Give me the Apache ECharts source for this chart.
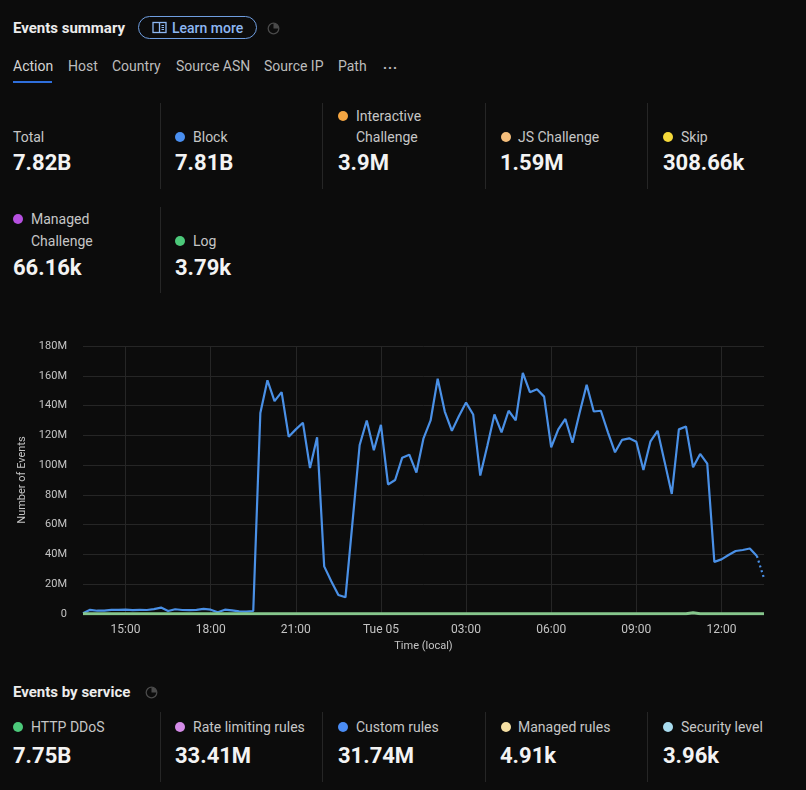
<!DOCTYPE html>
<html>
<head>
<meta charset="utf-8">
<script src="https://cdn.jsdelivr.net/npm/echarts@6/dist/echarts.min.js"></script>
<style>
  html, body { margin:0; padding:0; background:#0c0c0c; }
  body { width:806px; height:790px; position:relative; overflow:hidden; font-family: Roboto, "Noto Sans", sans-serif; color:#e6e6e6; }
  .abs { position:absolute; white-space:nowrap; }
  .title { font-size:15px; font-weight:700; color:#ececec; line-height:18px; }
  .tab { font-size:14px; color:#bdbdbd; line-height:18px; }
  .lbl { font-size:14px; color:#c6c6c6; line-height:20px; }
  .val { font-size:22px; font-weight:700; color:#f3f3f3; line-height:26px; }
  .dot { position:absolute; width:10px; height:10px; border-radius:50%; }
  .sep { position:absolute; width:1px; background:#262626; }
  #chart { position:absolute; left:0; top:320px; width:806px; height:350px; }
</style>
</head>
<body>
<!-- header -->
<div class="abs title" style="left:13px; top:19px;">Events summary</div>
<div class="abs" style="left:138px; top:16px; width:117px; height:21px; border:1.5px solid #6f9ee0; border-radius:13px;"></div>
<svg class="abs" style="left:152px; top:21px;" width="15" height="13" viewBox="0 0 15 13">
  <rect x="1" y="1.5" width="13" height="10" fill="none" stroke="#8db7f2" stroke-width="1.3"/>
  <line x1="7.5" y1="1.5" x2="7.5" y2="11.5" stroke="#8db7f2" stroke-width="1.3"/>
  <line x1="9.5" y1="4.5" x2="12" y2="4.5" stroke="#8db7f2" stroke-width="1"/>
  <line x1="9.5" y1="6.5" x2="12" y2="6.5" stroke="#8db7f2" stroke-width="1"/>
  <line x1="9.5" y1="8.5" x2="12" y2="8.5" stroke="#8db7f2" stroke-width="1"/>
</svg>
<div class="abs" style="left:172px; top:19px; font-size:14px; font-weight:500; color:#8db7f2; line-height:18px;">Learn more</div>
<svg class="abs" style="left:267px; top:22px;" width="13" height="13" viewBox="0 0 13 13">
  <circle cx="6.5" cy="6.5" r="5.3" fill="none" stroke="#4a4a4a" stroke-width="1.3"/>
  <path d="M6.5 6.5 L6.5 1.2 A5.3 5.3 0 0 1 11.8 6.5 Z" fill="#4a4a4a"/>
</svg>

<!-- tabs -->
<div class="abs tab" style="left:13px; top:57px; color:#d4d4d4;">Action</div>
<div class="abs tab" style="left:68px; top:57px;">Host</div>
<div class="abs tab" style="left:112px; top:57px;">Country</div>
<div class="abs tab" style="left:176px; top:57px;">Source ASN</div>
<div class="abs tab" style="left:264px; top:57px;">Source IP</div>
<div class="abs tab" style="left:338px; top:57px;">Path</div>
<div class="abs tab" style="left:383px; top:55px; font-weight:700; letter-spacing:1px;">...</div>
<div class="abs" style="left:13px; top:81px; width:39px; height:2px; background:#2f6fdc;"></div>

<!-- row 1 -->
<div class="sep" style="left:160px; top:103px; height:86px;"></div>
<div class="sep" style="left:322px; top:103px; height:86px;"></div>
<div class="sep" style="left:485px; top:103px; height:86px;"></div>
<div class="sep" style="left:647px; top:103px; height:86px;"></div>

<div class="abs lbl" style="left:13px; top:127px;">Total</div>
<div class="abs val" style="left:13px; top:150px;">7.82B</div>

<div class="dot" style="left:175px; top:132px; background:#4a8ff0;"></div>
<div class="abs lbl" style="left:193px; top:127px;">Block</div>
<div class="abs val" style="left:175px; top:150px;">7.81B</div>

<div class="dot" style="left:338px; top:111px; background:#f5a642;"></div>
<div class="abs lbl" style="left:356px; top:106px;">Interactive</div>
<div class="abs lbl" style="left:356px; top:127px;">Challenge</div>
<div class="abs val" style="left:338px; top:150px;">3.9M</div>

<div class="dot" style="left:501px; top:132px; background:#f6bf7c;"></div>
<div class="abs lbl" style="left:518px; top:127px;">JS Challenge</div>
<div class="abs val" style="left:500px; top:150px;">1.59M</div>

<div class="dot" style="left:663px; top:132px; background:#f5d93a;"></div>
<div class="abs lbl" style="left:681px; top:127px;">Skip</div>
<div class="abs val" style="left:663px; top:150px;">308.66k</div>

<!-- row 2 -->
<div class="sep" style="left:160px; top:207px; height:86px;"></div>
<div class="dot" style="left:13px; top:214px; background:#b650e0;"></div>
<div class="abs lbl" style="left:31px; top:209px;">Managed</div>
<div class="abs lbl" style="left:31px; top:231px;">Challenge</div>
<div class="abs val" style="left:13px; top:255px;">66.16k</div>

<div class="dot" style="left:175px; top:236px; background:#4cc97a;"></div>
<div class="abs lbl" style="left:193px; top:231px;">Log</div>
<div class="abs val" style="left:175px; top:255px;">3.79k</div>

<div id="chart"></div>

<!-- events by service -->
<div class="abs title" style="left:13px; top:683px;">Events by service</div>
<svg class="abs" style="left:145px; top:686px;" width="13" height="13" viewBox="0 0 13 13">
  <circle cx="6.5" cy="6.5" r="5.3" fill="none" stroke="#4a4a4a" stroke-width="1.3"/>
  <path d="M6.5 6.5 L6.5 1.2 A5.3 5.3 0 0 1 11.8 6.5 Z" fill="#4a4a4a"/>
</svg>
<div class="sep" style="left:160px; top:712px; height:70px;"></div>
<div class="sep" style="left:322px; top:712px; height:70px;"></div>
<div class="sep" style="left:485px; top:712px; height:70px;"></div>
<div class="sep" style="left:647px; top:712px; height:70px;"></div>

<div class="dot" style="left:13px; top:722px; background:#4cc97a;"></div>
<div class="abs lbl" style="left:31px; top:717px;">HTTP DDoS</div>
<div class="abs val" style="left:13px; top:743px;">7.75B</div>

<div class="dot" style="left:175px; top:722px; background:#d48be8;"></div>
<div class="abs lbl" style="left:193px; top:717px;">Rate limiting rules</div>
<div class="abs val" style="left:175px; top:743px;">33.41M</div>

<div class="dot" style="left:338px; top:722px; background:#4b8df5;"></div>
<div class="abs lbl" style="left:356px; top:717px;">Custom rules</div>
<div class="abs val" style="left:338px; top:743px;">31.74M</div>

<div class="dot" style="left:501px; top:722px; background:#f6e0a3;"></div>
<div class="abs lbl" style="left:518px; top:717px;">Managed rules</div>
<div class="abs val" style="left:500px; top:743px;">4.91k</div>

<div class="dot" style="left:663px; top:722px; background:#a9dcef;"></div>
<div class="abs lbl" style="left:681px; top:717px;">Security level</div>
<div class="abs val" style="left:663px; top:743px;">3.96k</div>

<script>
// 15-minute buckets, Mon 13:30 -> Tue 13:30
const times = [
  "Mon 13:30","Mon 13:45","Mon 14:00","Mon 14:15","Mon 14:30","Mon 14:45",
  "Mon 15:00","Mon 15:15","Mon 15:30","Mon 15:45","Mon 16:00","Mon 16:15",
  "Mon 16:30","Mon 16:45","Mon 17:00","Mon 17:15","Mon 17:30","Mon 17:45",
  "Mon 18:00","Mon 18:15","Mon 18:30","Mon 18:45","Mon 19:00","Mon 19:15",
  "Mon 19:30","Mon 19:45","Mon 20:00","Mon 20:15","Mon 20:30","Mon 20:45",
  "Mon 21:00","Mon 21:15","Mon 21:30","Mon 21:45","Mon 22:00","Mon 22:15",
  "Mon 22:30","Mon 22:45","Mon 23:00","Mon 23:15","Mon 23:30","Mon 23:45",
  "Tue 00:00","Tue 00:15","Tue 00:30","Tue 00:45","Tue 01:00","Tue 01:15",
  "Tue 01:30","Tue 01:45","Tue 02:00","Tue 02:15","Tue 02:30","Tue 02:45",
  "Tue 03:00","Tue 03:15","Tue 03:30","Tue 03:45","Tue 04:00","Tue 04:15",
  "Tue 04:30","Tue 04:45","Tue 05:00","Tue 05:15","Tue 05:30","Tue 05:45",
  "Tue 06:00","Tue 06:15","Tue 06:30","Tue 06:45","Tue 07:00","Tue 07:15",
  "Tue 07:30","Tue 07:45","Tue 08:00","Tue 08:15","Tue 08:30","Tue 08:45",
  "Tue 09:00","Tue 09:15","Tue 09:30","Tue 09:45","Tue 10:00","Tue 10:15",
  "Tue 10:30","Tue 10:45","Tue 11:00","Tue 11:15","Tue 11:30","Tue 11:45",
  "Tue 12:00","Tue 12:15","Tue 12:30","Tue 12:45","Tue 13:00","Tue 13:15",
  "Tue 13:30"
];

// Block events, millions (complete buckets)
const blockValues = [
  0.5, 2.8, 2.2, 2.3, 2.8, 2.8,
  3.0, 2.6, 2.8, 2.7, 3.3, 4.3,
  2.0, 3.2, 2.7, 2.6, 2.8, 3.5,
  2.9, 1.2, 2.9, 2.4, 1.8, 1.6,
  2.0, 135, 157, 143, 149, 119,
  124, 128.5, 98, 118.7, 32, 22,
  12.8, 11.2, 62, 113.5, 130, 110,
  127, 87, 90, 105, 107, 95,
  118, 130, 158, 136, 123, 133,
  142, 134, 93, 113, 134, 122,
  136.5, 130, 162, 149, 151, 146,
  112, 124, 131, 115, 135, 154,
  136, 136.5, 122, 108.6, 117, 118,
  115.7, 96.7, 116, 123, 102, 80.6,
  124, 126, 98.5, 107.5, 101, 35,
  36.7, 39.6, 42.3, 43, 44, 39,
  null
];

// Block events, millions (last, incomplete bucket drawn dotted)
const blockPartial = [
  null,null,null,null,null,null,null,null,null,null,null,null,
  null,null,null,null,null,null,null,null,null,null,null,null,
  null,null,null,null,null,null,null,null,null,null,null,null,
  null,null,null,null,null,null,null,null,null,null,null,null,
  null,null,null,null,null,null,null,null,null,null,null,null,
  null,null,null,null,null,null,null,null,null,null,null,null,
  null,null,null,null,null,null,null,null,null,null,null,null,
  null,null,null,null,null,null,null,null,null,null,null,39,
  24
];

// Other actions (near zero), millions
const otherValues = [
  0.1,0.1,0.1,0.1,0.1,0.1,0.1,0.1,0.1,0.1,0.1,0.1,
  0.1,0.1,0.1,0.1,0.1,0.1,0.1,0.1,0.1,0.1,0.1,0.1,
  0.1,0.1,0.1,0.1,0.1,0.1,0.1,0.1,0.1,0.1,0.1,0.1,
  0.1,0.1,0.1,0.1,0.1,0.1,0.1,0.1,0.1,0.1,0.1,0.1,
  0.1,0.1,0.1,0.1,0.1,0.1,0.1,0.1,0.1,0.1,0.1,0.1,
  0.1,0.1,0.1,0.1,0.1,0.1,0.1,0.1,0.1,0.1,0.1,0.1,
  0.1,0.1,0.1,0.1,0.1,0.1,0.1,0.1,0.1,0.1,0.1,0.1,
  0.1,0.1,0.8,0.1,0.1,0.1,0.1,0.1,0.1,0.1,0.1,0.1,
  0.1
];

const yTicks = { min: 0, max: 180, interval: 20 };

const chart = echarts.init(document.getElementById('chart'), null, { renderer: 'canvas' });

const isMajor = (idx) => (idx - 6) % 12 === 0 && idx >= 6;

chart.setOption({
  animation: false,
  backgroundColor: 'transparent',
  textStyle: { fontFamily: 'Roboto, "Noto Sans", sans-serif' },
  grid: { left: 83, right: 42, top: 26, bottom: 56 },
  xAxis: {
    type: 'category',
    data: times,
    boundaryGap: false,
    name: 'Time (local)',
    nameLocation: 'middle',
    nameGap: 27,
    nameTextStyle: { color: '#c4c4c4', fontSize: 11 },
    axisLine: { show: false },
    axisTick: { show: false },
    axisLabel: {
      interval: (idx) => isMajor(idx),
      color: '#c4c4c4',
      fontSize: 12,
      margin: 10,
      formatter: (v) => v === 'Tue 00:00' ? 'Tue 05' : v.split(' ')[1]
    },
    splitLine: {
      show: true,
      interval: (idx) => isMajor(idx),
      lineStyle: { color: '#262626', width: 1 }
    }
  },
  yAxis: {
    type: 'value',
    min: yTicks.min,
    max: yTicks.max,
    interval: yTicks.interval,
    name: 'Number of Events',
    nameLocation: 'middle',
    nameGap: 55,
    nameTextStyle: { color: '#c4c4c4', fontSize: 11 },
    axisLine: { show: false },
    axisTick: { show: false },
    axisLabel: {
      color: '#c4c4c4',
      fontSize: 11,
      margin: 16,
      formatter: (v) => v === 0 ? '0' : v + 'M'
    },
    splitLine: { lineStyle: { color: '#262626', width: 1 } }
  },
  series: [
    {
      name: 'Block',
      type: 'line',
      data: blockValues,
      symbol: 'none',
      lineStyle: { color: '#4a90e6', width: 2.2 },
      itemStyle: { color: '#4a90e6' },
      z: 3
    },
    {
      name: 'Block (partial)',
      type: 'line',
      data: blockPartial,
      symbol: 'none',
      lineStyle: { color: '#4a90e6', width: 2.2, type: [2, 3] },
      z: 3
    },
    {
      name: 'Other',
      type: 'line',
      data: otherValues,
      symbol: 'none',
      lineStyle: { color: '#86c68c', width: 3 },
      z: 4
    }
  ]
});
</script>
</body>
</html>
